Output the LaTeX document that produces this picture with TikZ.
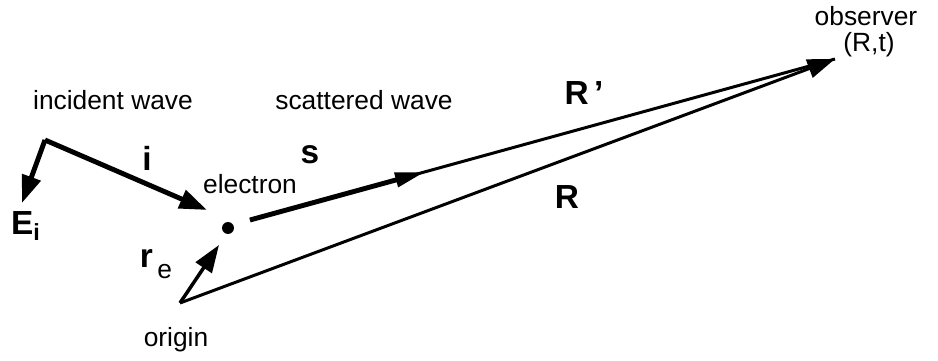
\documentclass[tikz,border=0pt]{standalone}
\usepackage{fontspec}
\setmainfont{Liberation Sans}
\usetikzlibrary{arrows.meta,positioning,calc}
\tikzset{lab/.style={font=\fontsize{15}{17}\selectfont,inner sep=1pt},vec/.style={font=\bfseries\fontsize{19}{21}\selectfont,inner sep=1pt},heavy/.style={-{Triangle[length=5.5mm,width=3.8mm]},line width=2.8pt},light/.style={-{Triangle[length=5.5mm,width=3.8mm]},line width=1.7pt},dot/.style={circle,fill=black,inner sep=0pt,minimum size=2.4mm}}

\begin{document}
\begin{tikzpicture}[x=0.02cm,y=-0.02cm]
\useasboundingbox (0,0) rectangle (938,361);
\coordinate (crn) at (45,140);
\coordinate (etip) at (22,203);
\coordinate (itip) at (207,210);
\coordinate (sbeg) at (250,220);
\coordinate (send) at (425,172);
\coordinate (org) at (180,303);
\coordinate (rtip) at (219,245);
\coordinate (obs) at (835,59);
\node[dot] (el) at (228,228) {};
\node[lab] (inc) at (113,100) {incident wave};
\node[lab] (sca) at (364,100) {scattered wave};
\node[lab] (elab) at (250,184) {electron};
\node[lab] (olab) at (176,340) {origin};
\node[lab] (obsl) at (866,16) {observer};
\node[lab] (rt) at (869,45) {(R,t)};
\node[vec] (ilab) at (147,158) {i};
\node[vec] (slab) at (310,155) {s};
\node[vec] (Elab) at (26,226) {E\textsubscript{i}};
\node[vec] (rlab) at (156,264) {r\raisebox{-6pt}{\fontsize{15}{15}\mdseries\selectfont\,e}};
\node[vec] (Rp) at (584,93) {R\,'};
\node[vec] (Rlab) at (567,197) {R};
\draw[heavy](crn)--(etip);
\draw[heavy](crn)--(itip);
\draw[light,-](sbeg)--(obs);
\draw[heavy,-{Triangle[length=6mm,width=2.8mm]}](sbeg)--(send);
\draw[light](org)--(obs);
\draw[light,line width=2pt](org)--(rtip);
\end{tikzpicture}
\end{document}
